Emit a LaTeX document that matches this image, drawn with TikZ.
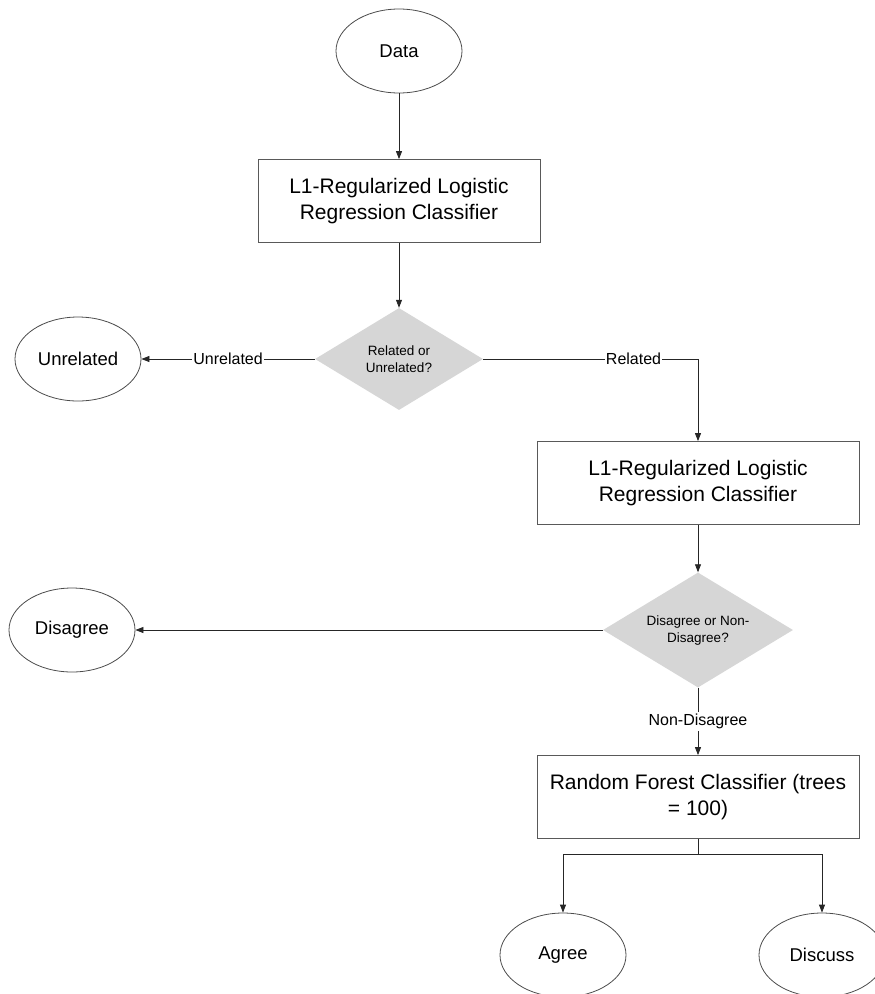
\documentclass[tikz,border=0pt]{standalone}
\usepackage{fontspec}
\setmainfont{Liberation Sans}
\usetikzlibrary{shapes.geometric,arrows.meta}
\begin{document}
\begin{tikzpicture}[x=1pt,y=-1pt,
  every node/.style={inner sep=0pt},
  endpoint/.style={ellipse,draw=black!70,line width=0.8pt,minimum width=126,minimum height=84,
    font=\fontsize{18.5}{22}\selectfont},
  procbox/.style={rectangle,draw=black!65,line width=0.8pt,minimum width=282,minimum height=83,
    align=center,font=\fontsize{21}{26}\selectfont},
  decision/.style={diamond,fill=black!16,aspect=1.65,align=center,
    font=\fontsize{13.5}{17}\selectfont},
  flow/.style={draw=black!85,line width=0.8pt,-{Triangle[length=8pt,width=6pt]}},
  edgelabel/.style={fill=white,inner xsep=1pt,inner ysep=2pt,font=\fontsize{16}{19}\selectfont}]
\useasboundingbox (0,0) rectangle (875,994);

% nodes
\node[endpoint] (data) at (399,51) {Data};
\node[procbox] (lr1) at (399,201) {L1-Regularized Logistic\\Regression Classifier};
\node[decision,minimum width=168,minimum height=102] (rel) at (399,359) {Related or\\Unrelated?};
\node[endpoint] (unrel) at (78,359) {Unrelated};
\node[procbox,minimum width=322] (lr2) at (698,483) {L1-Regularized Logistic\\Regression Classifier};
\node[decision,minimum width=190,minimum height=115] (dis) at (698,630) {Disagree or Non-\\Disagree?};
\node[endpoint] (disagree) at (72,630) {Disagree};
\node[procbox,minimum width=322] (rf) at (698,797) {Random Forest Classifier (trees\\= 100)};
\node[endpoint] (agree) at (563,955) {Agree};
\node[endpoint] (discuss) at (822,955) {Discuss};
\coordinate (split) at (698,854);

% connectors
\draw[flow] (data) -- (lr1);
\draw[flow] (lr1) -- (rel);
\draw[flow] (rel.west) -- node[edgelabel]{Unrelated} (unrel);
\draw[flow] (rel.east) -| node[edgelabel,pos=0.35]{Related} (lr2.north);
\draw[flow] (lr2) -- (dis);
\draw[flow] (dis.west) -- (disagree);
\draw[flow] (dis.south) -- node[edgelabel]{Non-Disagree} (rf.north);
\draw[draw=black!85,line width=0.8pt] (rf.south) -- (split);
\draw[flow] (split) -| (agree.north);
\draw[flow] (split) -| (discuss.north);
\end{tikzpicture}
\end{document}
